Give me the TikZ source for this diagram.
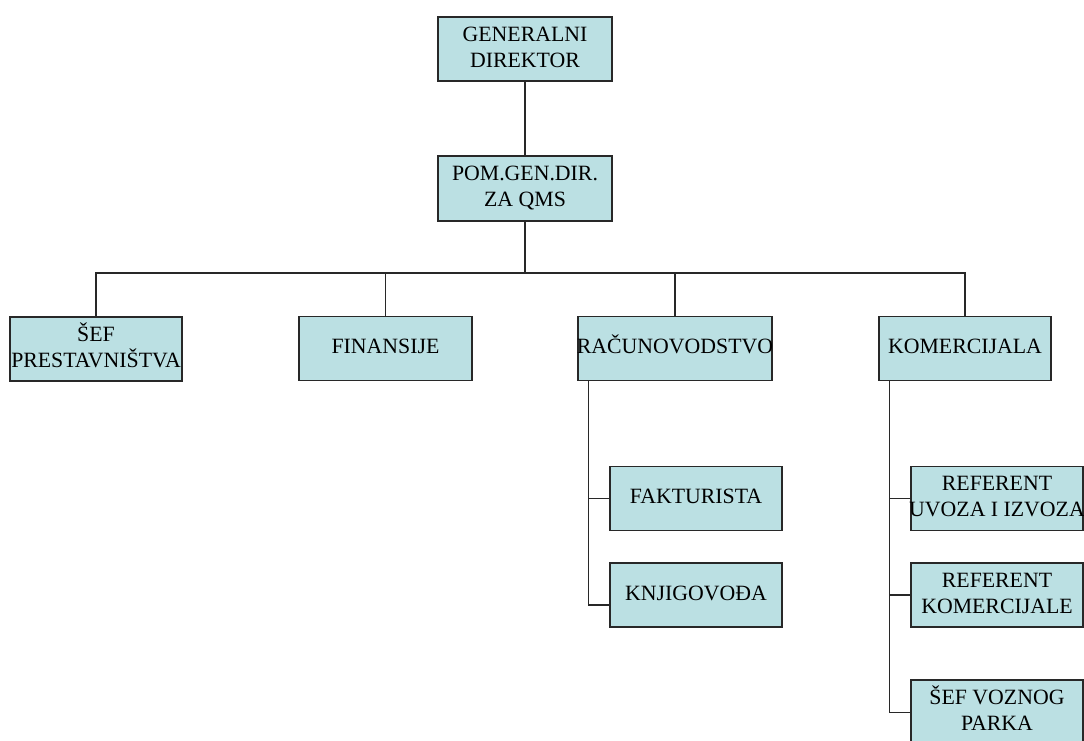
\documentclass[tikz,border=0pt]{standalone}
\usepackage{fontspec}
\setmainfont{Liberation Serif}
\usetikzlibrary{calc}
\definecolor{boxfill}{RGB}{187,224,227}
\definecolor{linecol}{RGB}{40,40,40}
\newcommand{\ctxt}[1]{\makebox[0pt][c]{\begin{tabular}{@{}c@{}}#1\end{tabular}}}
\tikzset{
  orgbox/.style={draw=linecol, fill=boxfill, line width=1.3pt, rectangle,
    minimum width=172pt, minimum height=64pt, inner sep=0pt,
    font=\fontsize{21.8}{26}\selectfont},
  conn/.style={draw=linecol, line width=1.3pt}
}
\begin{document}
\begin{tikzpicture}[x=1pt,y=-1pt]
\clip (0,0) rectangle (1084,740);
\fill[white] (0,0) rectangle (1084,740);
\node[orgbox, minimum width=174pt] (gd) at (525,49) {\ctxt{GENERALNI\\DIREKTOR}};
\node[orgbox, minimum width=174pt, minimum height=65pt] (pom) at (525,188.5) {\ctxt{POM.GEN.DIR.\\ZA QMS}};
\node[orgbox] (sef) at (96,349) {\ctxt{ŠEF\\PRESTAVNIŠTVA}};
\node[orgbox, minimum width=173pt] (fin) at (385.5,348.5) {\ctxt{FINANSIJE}};
\node[orgbox, minimum width=194pt] (rac) at (675,348.5) {\ctxt{RAČUNOVODSTVO}};
\node[orgbox] (kom) at (965,348.5) {\ctxt{KOMERCIJALA}};
\node[orgbox] (fak) at (696,498.5) {\ctxt{FAKTURISTA}};
\node[orgbox] (knj) at (696,595) {\ctxt{KNJIGOVOĐA}};
\node[orgbox] (ref1) at (997,498.5) {\ctxt{REFERENT\\UVOZA I IZVOZA}};
\node[orgbox] (ref2) at (997,595) {\ctxt{REFERENT\\KOMERCIJALE}};
\node[orgbox, minimum height=65pt] (sefv) at (997,712.5) {\ctxt{ŠEF VOZNOG\\PARKA}};
\coordinate (bus) at (525,273);
\draw[conn] (gd) -- (pom);
\draw[conn] (pom) -- (bus);
\draw[conn] (bus) -| (sef.north);
\draw[conn] (bus) -| (fin.north);
\draw[conn] (bus) -| (rac.north);
\draw[conn] (bus) -| (kom.north);
\coordinate (rt) at ($(rac.south west)+(11,0)$);
\draw[conn] (rt) |- (fak.west);
\draw[conn] (rt) |- ($(knj.west)+(0,10)$);
\coordinate (kt) at ($(kom.south west)+(11,0)$);
\draw[conn] (kt) |- (ref1.west);
\draw[conn] (kt) |- (ref2.west);
\draw[conn] (kt) |- (sefv.west);
\end{tikzpicture}
\end{document}
